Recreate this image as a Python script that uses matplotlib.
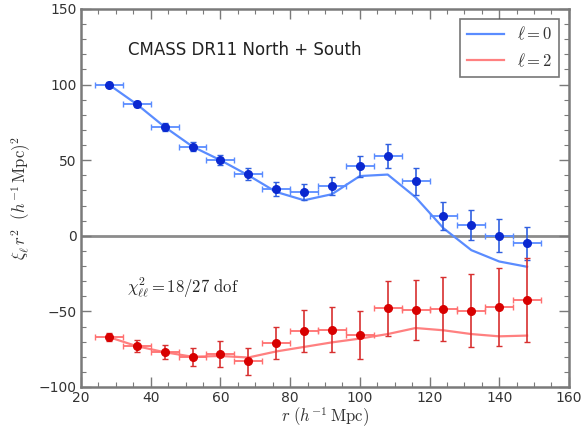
import numpy as np
import matplotlib.pyplot as plt

# Bin centres (h^-1 Mpc)
r = np.array([28, 36, 44, 52, 60, 68, 76, 84, 92, 100, 108, 116, 124, 132, 140, 148])
r_halfwidth = 4.0

# Monopole l=0 : mesures, erreurs et modele
xi0 = np.array([100, 87, 72, 59, 50, 41, 31, 29, 33, 46, 53, 36, 13, 7, 0, -5])
xi0_err = np.array([1.5, 2, 2.5, 3, 3.5, 4, 4.5, 5.5, 6, 7, 8, 9, 9.5, 10, 11, 11])
model0 = np.array([100, 87, 72, 59, 50, 40, 29, 23.5, 27.5, 39.5, 40.5, 25.5, 5, -9.5, -17, -20.5])

# Quadrupole l=2
xi2 = np.array([-67, -73, -77, -80, -78, -83, -71, -63, -62, -65.5, -48, -49, -48.5, -49.5, -47, -42.5])
xi2_err = np.array([2.5, 4, 4.5, 6, 8.5, 9, 10.5, 14, 15, 16, 18, 20, 21, 24, 26, 28])
model2 = np.array([-67, -73, -77, -80, -79.5, -80.5, -76.5, -73.5, -70.5, -68, -65, -61, -62.5, -65, -66.5, -66])

plt.rcParams['mathtext.fontset'] = 'cm'
plt.rcParams['font.family'] = 'DejaVu Sans'

fig = plt.figure(figsize=(5.85, 4.32), dpi=100)
ax = fig.add_axes([0.1385, 0.1042, 0.834, 0.875])

spine_c = '#7a7a7a'

# ligne zero
ax.axhline(0, color='#8c8c8c', lw=2, zorder=1)

# modeles
ax.plot(r, model0, color='#5a8cff', lw=1.6, label=r'$\ell=0$', zorder=2)
ax.plot(r, model2, color='#ff8080', lw=1.6, label=r'$\ell=2$', zorder=2)

# barres d'erreur horizontales (largeur des bins)
ax.errorbar(r, xi0, xerr=r_halfwidth, fmt='none', ecolor='#5a8cff', elinewidth=1.3,
            capsize=2.5, capthick=1, zorder=3)
ax.errorbar(r, xi2, xerr=r_halfwidth, fmt='none', ecolor='#ff7070', elinewidth=1.3,
            capsize=2.5, capthick=1, zorder=3)

# barres d'erreur verticales + points
ax.errorbar(r, xi0, yerr=xi0_err, fmt='o', color='#0a28d0', ms=5.5, ecolor='#3060e0',
            elinewidth=1.2, capsize=2.5, capthick=1, zorder=4)
ax.errorbar(r, xi2, yerr=xi2_err, fmt='o', color='#d80000', ms=5.5, ecolor='#d83030',
            elinewidth=1.2, capsize=2.5, capthick=1, zorder=4)

ax.set_xlim(20, 160)
ax.set_ylim(-100, 150)
ax.set_xticks(np.arange(20, 161, 20))
ax.set_yticks(np.arange(-100, 151, 50))
ax.set_xticks(np.arange(20, 161, 5), minor=True)
ax.set_yticks(np.arange(-100, 151, 10), minor=True)
ax.tick_params(which='both', direction='in', top=True, right=True, color=spine_c)
ax.tick_params(which='major', length=7, width=1, labelsize=10, labelcolor='#333333', pad=3)
ax.tick_params(which='minor', length=3.5, width=0.8)
for s in ax.spines.values():
    s.set_color(spine_c)
    s.set_linewidth(1.8)

ax.set_xlabel(r'$r\ (h^{-1}\,\mathrm{Mpc})$', fontsize=12, color='#333333', labelpad=0)
ax.set_ylabel(r'$\xi_\ell\, r^2\ \ (h^{-1}\,\mathrm{Mpc})^2$', fontsize=12, color='#333333', labelpad=4)

ax.text(33.5, 123, 'CMASS DR11 North + South', fontsize=12, va='center', ha='left', color='#222222')
ax.text(33.3, -34.5, r'$\chi^2_{\ell\ell}=18/27\ \mathrm{dof}$', fontsize=12, va='center', ha='left',
        color='#222222')

leg = ax.legend(loc='upper right', fontsize=12, handlelength=2.2, fancybox=False,
                borderaxespad=0.6, labelspacing=0.5, markerfirst=True)
leg.get_frame().set_edgecolor('#555555')
leg.get_frame().set_linewidth(1.2)
for t in leg.get_texts():
    t.set_color('#333333')

fig.savefig('out.png', dpi=100)
